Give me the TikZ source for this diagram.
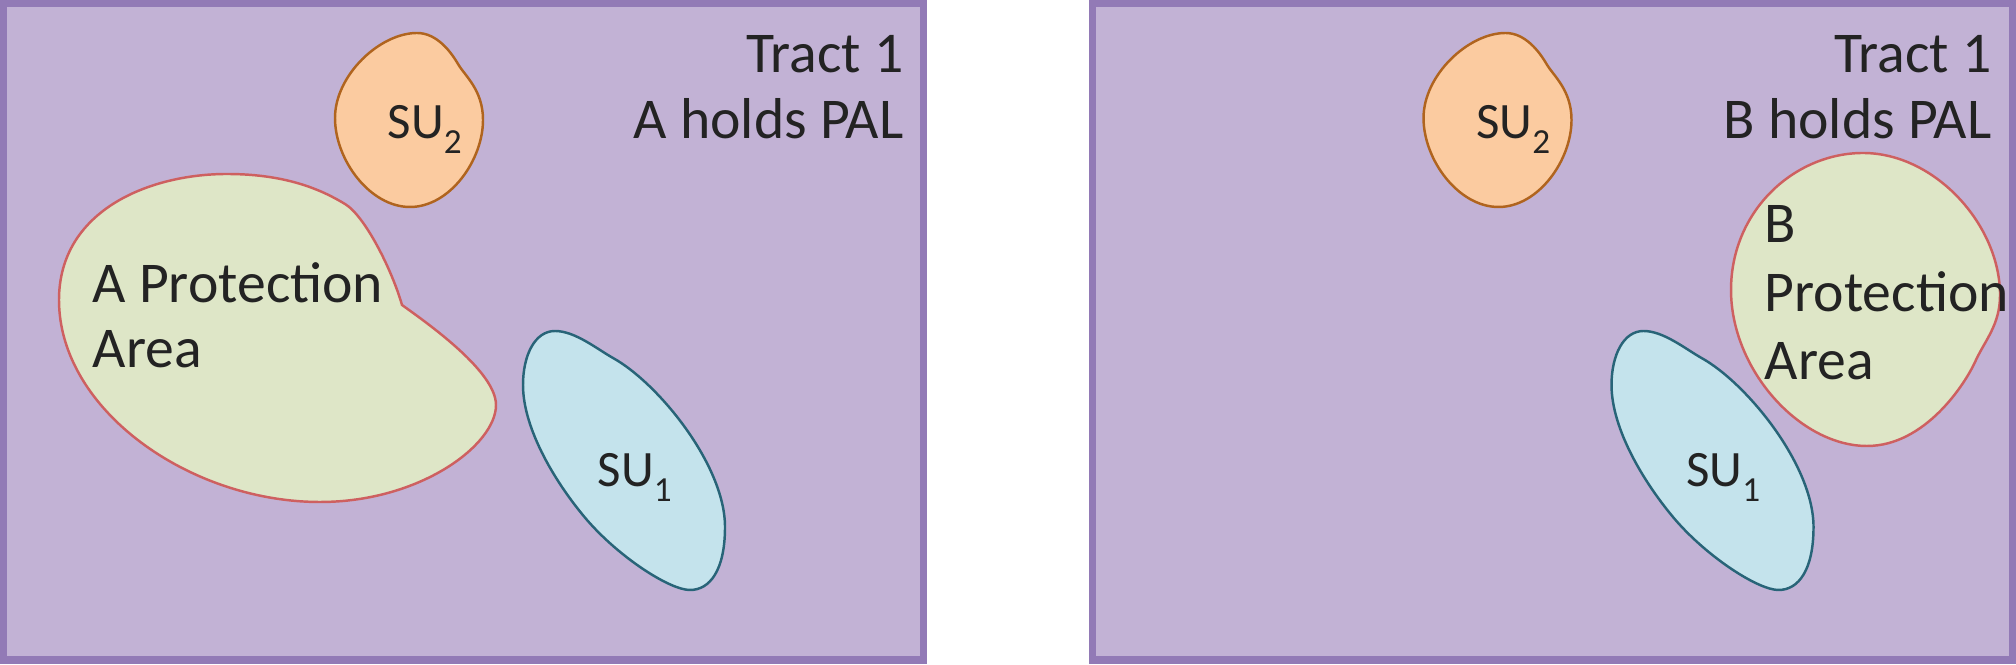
\documentclass[tikz,border=0pt]{standalone}
\usepackage{fontspec}
\setmainfont{Carlito}
\definecolor{tractfill}{RGB}{194,178,213}
\definecolor{tractline}{RGB}{146,122,182}
\definecolor{areafill}{RGB}{222,230,199}
\definecolor{arealine}{RGB}{206,96,96}
\definecolor{sutwofill}{RGB}{251,203,160}
\definecolor{sutwoline}{RGB}{176,100,30}
\definecolor{suonefill}{RGB}{196,227,236}
\definecolor{suoneline}{RGB}{40,100,120}
\definecolor{ink}{RGB}{35,35,35}
\newcommand{\subidx}[1]{\raisebox{-4.2pt}{\fontsize{10}{12}\selectfont #1}}

\tikzset{
  tract/.style={draw=tractline, fill=tractfill, line width=2pt},
  parea/.style={draw=arealine, fill=areafill, line width=0.7pt},
  sutwo/.style={draw=sutwoline, fill=sutwofill, line width=0.7pt},
  suone/.style={draw=suoneline, fill=suonefill, line width=0.7pt},
  lbl/.style={text=ink, inner sep=0pt, font=\fontsize{16.4}{18.7}\selectfont},
  sulbl/.style={text=ink, inner sep=0pt, font=\fontsize{14.5}{17}\selectfont},
}

\begin{document}
\begin{tikzpicture}[x=0.01cm, y=-0.01cm]
  \useasboundingbox (0,0) rectangle (2016,665);
  % the two tracts
  \draw[tract] (3.5,3.5) rectangle (923,660);
  \draw[tract] (1092,3.5) rectangle (2012,660);
  % protection area of A (left tract), corner at the notch
  \draw[parea] (402,305)
    .. controls (430,325) and (496,372) .. (496,405)
    .. controls (496,445) and (420,502) .. (320,502)
    .. controls (190,502) and (59,410) .. (59,300)
    .. controls (59,210) and (150,174) .. (227,174)
    .. controls (290,174) and (325,192) .. (345,204)
    .. controls (365,216) and (392,270) .. (402,305) -- cycle;
  % protection area of B (right tract)
  \draw[parea] (1863,153)
    .. controls (1935,153) and (2000,225) .. (2000,295)
    .. controls (2000,325) and (1985,340) .. (1975,362)
    .. controls (1965,384) and (1925,446) .. (1867,446)
    .. controls (1800,446) and (1731,370) .. (1731,290)
    .. controls (1731,210) and (1795,153) .. (1863,153) -- cycle;
  % secondary users, same place in both tracts
  \foreach \dx/\t in {0/a, 1088.5/b} {
    \begin{scope}[shift={(\dx,0)}]
      \draw[sutwo] (417,33)
        .. controls (437,33) and (451,52) .. (458,64)
        .. controls (465,76) and (483,90) .. (483,120)
        .. controls (483,160) and (450,207) .. (410,207)
        .. controls (370,207) and (335,160) .. (335,118)
        .. controls (335,75) and (380,33) .. (417,33) -- cycle;
      \draw[suone] (555,331)
        .. controls (575,331) and (597,349) .. (613,358)
        .. controls (658,383) and (725,465) .. (725,527)
        .. controls (725,570) and (710,590) .. (690,590)
        .. controls (670,590) and (620,558) .. (587,520)
        .. controls (557,485) and (523,430) .. (523,385)
        .. controls (523,355) and (535,331) .. (555,331) -- cycle;
      \node[sulbl, anchor=base west] (su2-\t) at (387,139) {SU\subidx{2}};
      \node[sulbl, anchor=base west] (su1-\t) at (597,487) {SU\subidx{1}};
    \end{scope}
  }
  % texts (base anchor sits on the last line)
  \node[lbl, anchor=base east, align=right] (tracta) at (904,138.3)
    {Tract 1\\A holds PAL};
  \node[lbl, anchor=base east, align=right] (tractb) at (1992,138.3)
    {Tract 1\\B holds PAL};
  \node[lbl, anchor=base west, align=left] (areaa) at (92,368)
    {A Protection\\Area};
  \node[lbl, anchor=base west, align=left,
        font=\fontsize{16.4}{19.6}\selectfont] (areab) at (1764,380)
    {B\\Protection\\Area};
\end{tikzpicture}
\end{document}
